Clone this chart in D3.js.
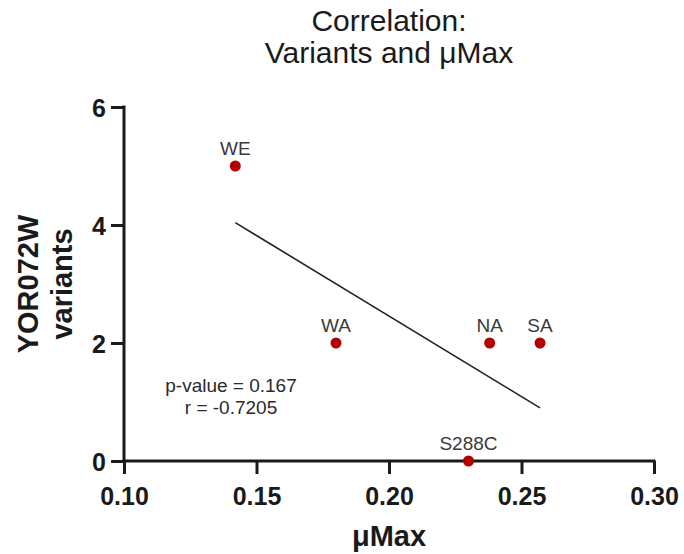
<!DOCTYPE html>
<html><head><meta charset="utf-8">
<script src="https://cdn.jsdelivr.net/npm/d3@7"></script>
<style>body{margin:0;background:#fff}svg{display:block;font-family:"Liberation Sans",Arial,sans-serif}</style>
</head><body><svg id="c" width="684" height="554"></svg>
<script>
const strains = ["WE","WA","NA","SA","S288C"];
const muMax = [0.142,0.180,0.238,0.257,0.230];
const variants = [5,2,2,2,0];
const xTicks = [0.10,0.15,0.20,0.25,0.30];
const yTicks = [0,2,4,6];
const titleLines = ["Correlation:","Variants and μMax"];
const statsLines = ["p-value = 0.167","r = -0.7205"];
const yTitleLines = ["YOR072W","variants"];

const svg = d3.select("#c");
const x = d3.scaleLinear().domain([0.10,0.30]).range([124,654]);
const y = d3.scaleLinear().domain([0,6]).range([461,107]);
const axCol = "#1a1a1a";
const ff = "'Liberation Sans',Arial,sans-serif";

const gx = svg.append("g").attr("transform","translate(0,461)")
  .call(d3.axisBottom(x).tickValues(xTicks).tickFormat(d3.format(".2f")).tickSize(13).tickSizeOuter(0));
const gy = svg.append("g").attr("transform","translate(124,0)")
  .call(d3.axisLeft(y).tickValues(yTicks).tickFormat(d3.format("d")).tickSize(13).tickSizeOuter(0));
[gx,gy].forEach(g=>{
  g.select(".domain").attr("stroke",axCol).attr("stroke-width",3);
  g.selectAll(".tick line").attr("stroke",axCol).attr("stroke-width",3);
  g.selectAll(".tick text").attr("fill",axCol).attr("font-size",25).attr("font-weight","bold")
   .attr("font-family",ff);
});
gx.select(".domain").attr("d","M122.5,0H655.5");
gy.select(".domain").attr("d","M0,105.5V462.5");
gx.selectAll(".tick text").attr("dy",null).attr("y",44);
gy.selectAll(".tick text").attr("x",-18).attr("dy","0.36em");

// regression line (least squares through the data)
const n = muMax.length;
const mx = d3.mean(muMax), my = d3.mean(variants);
let sxy=0,sxx=0;
for(let i=0;i<n;i++){sxy+=(muMax[i]-mx)*(variants[i]-my);sxx+=(muMax[i]-mx)**2;}
const slope = sxy/sxx, icpt = my - slope*mx;
const [x0,x1] = d3.extent(muMax);
svg.append("line").attr("x1",x(x0)).attr("y1",y(icpt+slope*x0))
  .attr("x2",x(x1)).attr("y2",y(icpt+slope*x1)).attr("stroke","#222").attr("stroke-width",1.6);

const pts = strains.map((s,i)=>({s,x:muMax[i],y:variants[i]}));
svg.selectAll("circle.pt").data(pts).enter().append("circle").attr("class","pt")
  .attr("cx",d=>x(d.x)).attr("cy",d=>y(d.y)).attr("r",5.5).attr("fill","#b40000");
svg.selectAll("text.lab").data(pts).enter().append("text").attr("class","lab")
  .attr("x",d=>x(d.x)).attr("y",d=>y(d.y)-11).attr("text-anchor","middle")
  .attr("font-size",19).attr("fill","#3a3a3a").text(d=>d.s);

svg.selectAll("text.ttl").data(titleLines).enter().append("text").attr("class","ttl")
  .attr("x",389).attr("y",(d,i)=>31+i*32).attr("text-anchor","middle")
  .attr("font-size",30).attr("fill","#1a1a1a").text(d=>d);

svg.selectAll("text.st").data(statsLines).enter().append("text").attr("class","st")
  .attr("x",231).attr("y",(d,i)=>392+i*22).attr("text-anchor","middle")
  .attr("font-size",19).attr("fill","#2a2a2a").text(d=>d);

svg.append("text").attr("x",389).attr("y",546).attr("text-anchor","middle")
  .attr("font-size",29).attr("font-weight","bold").attr("fill","#1a1a1a").text("μMax");
const yl = svg.append("g").attr("transform","translate(0,284) rotate(-90)");
yl.selectAll("text").data(yTitleLines).enter().append("text")
  .attr("x",0).attr("y",(d,i)=>38+i*34).attr("text-anchor","middle")
  .attr("font-size",29).attr("font-weight","bold").attr("fill","#1a1a1a").text(d=>d);
</script></body></html>
